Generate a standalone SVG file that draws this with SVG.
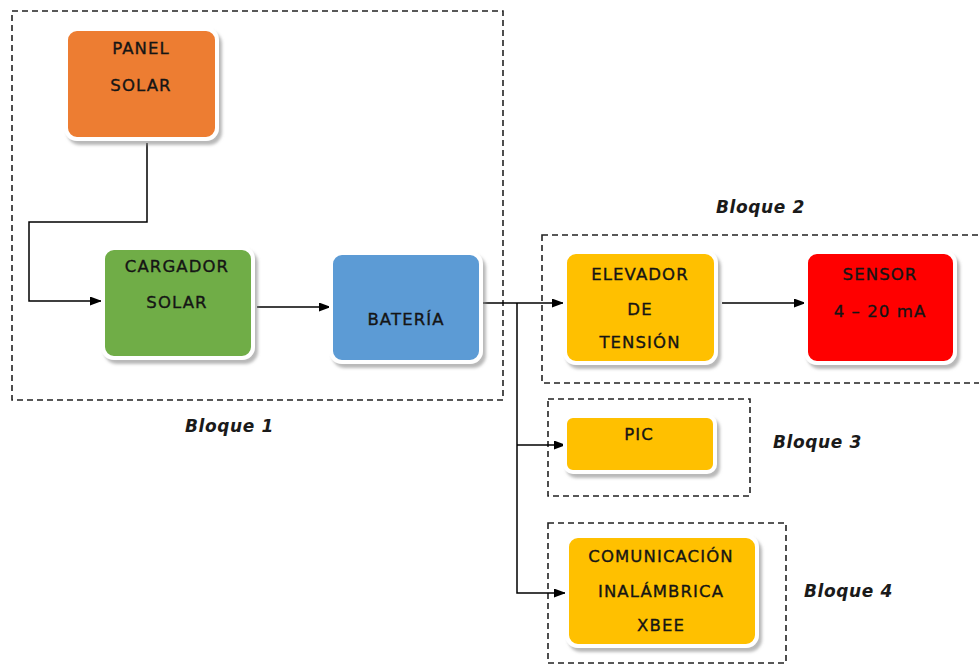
<svg xmlns="http://www.w3.org/2000/svg" width="979" height="665" viewBox="0 0 979 665">
<style>
.box{stroke:#ffffff;stroke-width:4;filter:url(#sh)}
.lbl{font-family:"DejaVu Sans",Verdana,sans-serif;font-size:16.5px;letter-spacing:1.1px;fill:#151515;stroke:#151515;stroke-width:0.35;text-anchor:middle}
.blq{font-family:"DejaVu Sans",Verdana,sans-serif;font-size:17px;font-weight:bold;font-style:italic;letter-spacing:0.6px;fill:#1a1a1a}
.dash{fill:none;stroke:#222;stroke-width:1.6;stroke-dasharray:6 4}
.con{fill:none;stroke:#000;stroke-width:1.5}
</style>
<defs>
<filter id="sh" x="-10%" y="-10%" width="125%" height="130%">
<feDropShadow dx="3" dy="4" stdDeviation="1.5" flood-color="#8a8a8a" flood-opacity="0.6"/>
</filter>
<marker id="ar" viewBox="0 0 12 9" refX="12" refY="4.5" markerWidth="12" markerHeight="9" markerUnits="userSpaceOnUse" orient="auto">
<path d="M0,0 L12,4.5 L0,9 Z" fill="#000"/>
</marker>
</defs>
<rect width="979" height="665" fill="#ffffff"/>

<g id="bloque1">
<rect class="dash" x="12" y="11" width="491" height="389"/>
<text class="blq" x="185" y="432">Bloque 1</text>
</g>
<g id="bloque2">
<rect class="dash" x="542" y="235" width="445" height="148"/>
<text class="blq" x="716" y="213">Bloque 2</text>
</g>
<g id="bloque3">
<rect class="dash" x="548" y="399" width="202" height="97"/>
<text class="blq" x="773" y="448">Bloque 3</text>
</g>
<g id="bloque4">
<rect class="dash" x="548" y="523" width="238" height="140"/>
<text class="blq" x="804" y="597">Bloque 4</text>
</g>

<g id="connectors">
<path class="con" d="M147,143 V222 H29 V301 H102" marker-end="url(#ar)"/>
<path class="con" d="M257,307 H331" marker-end="url(#ar)"/>
<path class="con" d="M482,303 H564" marker-end="url(#ar)"/>
<path class="con" d="M517,303 V593 H566" marker-end="url(#ar)"/>
<path class="con" d="M517,445 H566" marker-end="url(#ar)"/>
<path class="con" d="M722,303 H806" marker-end="url(#ar)"/>
</g>

<g id="panel-solar">
<rect class="box" x="66" y="29" width="151" height="110" rx="11" fill="#ED7D31"/>
<text class="lbl" x="141" y="54">PANEL</text>
<text class="lbl" x="141" y="91">SOLAR</text>
</g>
<g id="cargador-solar">
<rect class="box" x="103" y="248" width="150" height="110" rx="11" fill="#70AD47"/>
<text class="lbl" x="177" y="272">CARGADOR</text>
<text class="lbl" x="177" y="308">SOLAR</text>
</g>
<g id="bateria">
<rect class="box" x="331" y="253" width="150" height="109" rx="11" fill="#5B9BD5"/>
<text class="lbl" x="406" y="325">BATERÍA</text>
</g>
<g id="elevador">
<rect class="box" x="565" y="252" width="151" height="111" rx="11" fill="#FFC000"/>
<text class="lbl" x="640" y="280">ELEVADOR</text>
<text class="lbl" x="640" y="315">DE</text>
<text class="lbl" x="640" y="348">TENSIÓN</text>
</g>
<g id="sensor">
<rect class="box" x="806" y="252" width="149" height="111" rx="11" fill="#FF0000"/>
<text class="lbl" x="880" y="280">SENSOR</text>
<text class="lbl" x="880" y="317">4 – 20 mA</text>
</g>
<g id="pic">
<rect class="box" x="565" y="416" width="150" height="56" rx="8" fill="#FFC000"/>
<text class="lbl" x="639" y="440">PIC</text>
</g>
<g id="xbee">
<rect class="box" x="567" y="536" width="190" height="110" rx="11" fill="#FFC000"/>
<text class="lbl" x="661" y="562">COMUNICACIÓN</text>
<text class="lbl" x="661" y="597">INALÁMBRICA</text>
<text class="lbl" x="661" y="631">XBEE</text>
</g>
</svg>
